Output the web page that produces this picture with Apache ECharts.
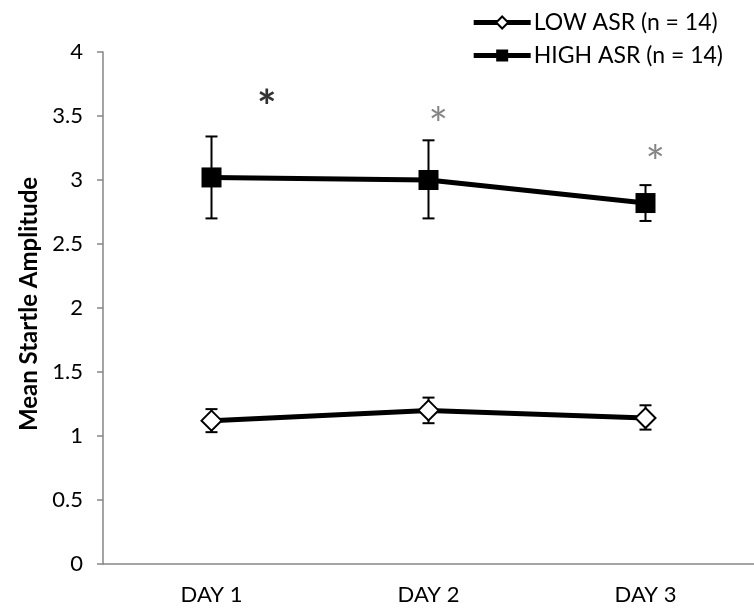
<!DOCTYPE html>
<html>
<head>
<meta charset="utf-8">
<script src="https://cdn.jsdelivr.net/npm/echarts@6/dist/echarts.min.js"></script>
<style>
  html, body { margin: 0; padding: 0; background: #fff; }
  #chart { width: 754px; height: 614px; }
</style>
</head>
<body>
<div id="chart"></div>
<script>
// Test days on the x axis
const days = ['DAY 1', 'DAY 2', 'DAY 3'];

// Group means
const lowMeans  = [1.12, 1.20, 1.14];
const highMeans = [3.02, 3.00, 2.82];

// Error bar ends (lower, upper)
const lowErrLow   = [1.03, 1.10, 1.05];
const lowErrHigh  = [1.21, 1.30, 1.24];
const highErrLow  = [2.70, 2.70, 2.68];
const highErrHigh = [3.34, 3.31, 2.96];

// Significance marks: position along the day axis (0..3) and height
const starX = [0.755, 1.545, 2.545];
const starY = [3.56, 3.42, 3.12];
const starColor = ['#000000', '#666666', '#666666'];

const FONT = 'Lato, "Open Sans", sans-serif';
const FS = 22;

function errData(lo, hi) {
  return days.map((d, i) => [i, lo[i], hi[i]]);
}

function renderErr(params, api) {
  const x = api.value(0);
  const top = api.coord([x, api.value(2)]);
  const bot = api.coord([x, api.value(1)]);
  const half = 6;
  const style = { stroke: '#000', lineWidth: 2 };
  return {
    type: 'group',
    children: [
      { type: 'line', shape: { x1: top[0], y1: top[1], x2: bot[0], y2: bot[1] }, style },
      { type: 'line', shape: { x1: top[0] - half, y1: top[1], x2: top[0] + half, y2: top[1] }, style },
      { type: 'line', shape: { x1: bot[0] - half, y1: bot[1], x2: bot[0] + half, y2: bot[1] }, style }
    ]
  };
}

const chart = echarts.init(document.getElementById('chart'));
chart.setOption({
  animation: false,
  backgroundColor: '#fff',
  grid: { left: 103, top: 52, right: -8, bottom: 50 },
  legend: {
    orient: 'vertical',
    right: 26,
    top: 6,
    itemWidth: 57,
    itemHeight: 15,
    itemGap: 10,
    textStyle: { fontFamily: FONT, fontSize: 23, color: '#000', padding: [0, 0, 0, -2] },
    data: [
      { name: 'LOW ASR (n = 14)', lineStyle: { width: 5, color: '#000' } },
      { name: 'HIGH ASR (n = 14)', lineStyle: { width: 5, color: '#000' } }
    ]
  },
  xAxis: [
    {
      type: 'category',
      data: days,
      boundaryGap: true,
      axisLine: { lineStyle: { color: '#868686', width: 1.5 } },
      axisTick: { length: 6, lineStyle: { color: '#868686', width: 1.5 } },
      axisLabel: { fontFamily: FONT, fontSize: FS, color: '#000', margin: 20 }
    },
    {
      type: 'value',
      min: 0,
      max: 3,
      show: false
    }
  ],
  yAxis: {
    type: 'value',
    min: 0,
    max: 4,
    interval: 0.5,
    name: 'Mean Startle Amplitude',
    nameLocation: 'middle',
    nameGap: 60,
    nameTextStyle: { fontFamily: FONT, fontSize: 24, fontWeight: 'bold', color: '#000', padding: [0, 0, 0, 8] },
    splitLine: { show: false },
    axisLine: { show: true, lineStyle: { color: '#868686', width: 1.5 } },
    axisTick: { show: true, length: 6, lineStyle: { color: '#868686', width: 1.5 } },
    axisLabel: { fontFamily: FONT, fontSize: FS, color: '#000', margin: 20 }
  },
  series: [
    {
      name: 'LOW ASR (n = 14)',
      type: 'line',
      data: lowMeans,
      symbol: 'diamond',
      symbolSize: 20,
      lineStyle: { color: '#000', width: 5 },
      itemStyle: { color: '#fff', borderColor: '#000', borderWidth: 2 },
      z: 3
    },
    {
      name: 'HIGH ASR (n = 14)',
      type: 'line',
      data: highMeans,
      symbol: 'rect',
      symbolSize: 20,
      lineStyle: { color: '#000', width: 5 },
      itemStyle: { color: '#000', borderColor: '#000', borderWidth: 0 },
      z: 3
    },
    {
      type: 'custom',
      renderItem: renderErr,
      data: errData(lowErrLow, lowErrHigh),
      encode: { x: 0, y: [1, 2] },
      z: 2,
      silent: true
    },
    {
      type: 'custom',
      renderItem: renderErr,
      data: errData(highErrLow, highErrHigh),
      encode: { x: 0, y: [1, 2] },
      z: 2,
      silent: true
    },
    {
      type: 'scatter',
      xAxisIndex: 1,
      symbolSize: 0,
      silent: true,
      data: starX.map((x, i) => ({
        value: [x, starY[i]],
        label: {
          show: true,
          position: 'inside',
          formatter: '*',
          fontFamily: FONT,
          fontSize: 46,
          fontWeight: i === 0 ? 'bold' : 'normal',
          color: starColor[i]
        }
      }))
    }
  ]
});
</script>
</body>
</html>
